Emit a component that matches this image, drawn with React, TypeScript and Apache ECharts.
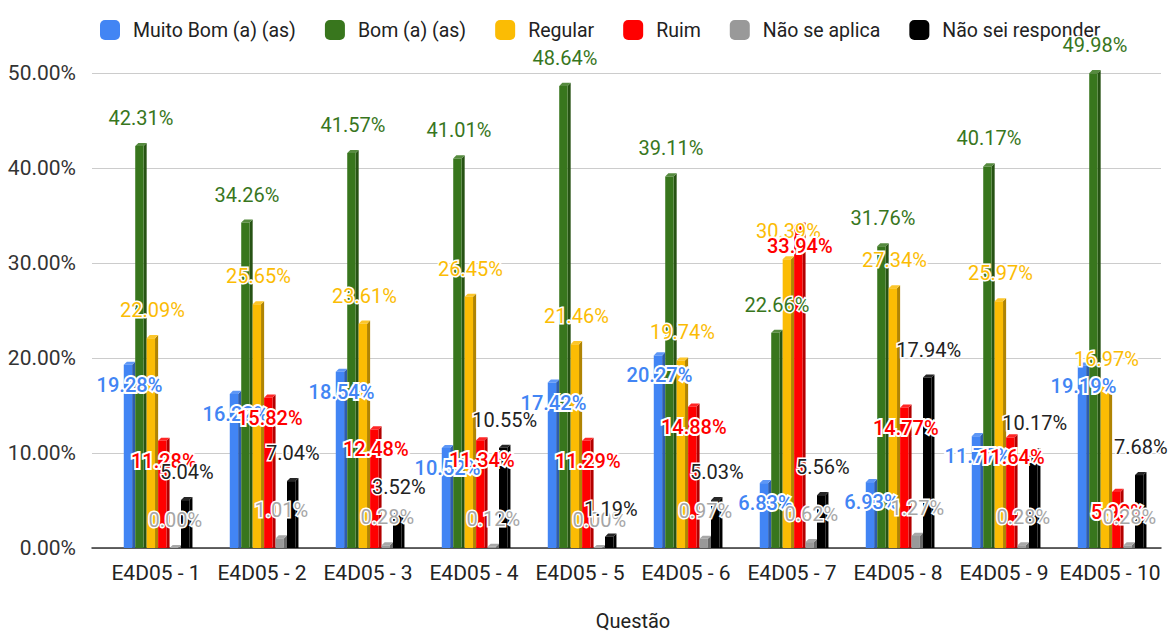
import React, { useEffect, useRef } from 'react';
import * as echarts from 'echarts';

const categories = ['E4D05 - 1', 'E4D05 - 2', 'E4D05 - 3', 'E4D05 - 4', 'E4D05 - 5', 'E4D05 - 6', 'E4D05 - 7', 'E4D05 - 8', 'E4D05 - 9', 'E4D05 - 10'];
const muitoBom = [19.28, 16.22, 18.54, 10.52, 17.42, 20.27, 6.83, 6.93, 11.77, 19.19];
const bom = [42.31, 34.26, 41.57, 41.01, 48.64, 39.11, 22.66, 31.76, 40.17, 49.98];
const regular = [22.09, 25.65, 23.61, 26.45, 21.46, 19.74, 30.39, 27.34, 25.97, 16.97];
const ruim = [11.28, 15.82, 12.48, 11.34, 11.29, 14.88, 33.94, 14.77, 11.64, 5.9];
const naoSeAplica = [0.0, 1.01, 0.28, 0.12, 0.0, 0.97, 0.62, 1.27, 0.28, 0.28];
const naoSeiResponder = [5.04, 7.04, 3.52, 10.55, 1.19, 5.03, 5.56, 17.94, 10.17, 7.68];
const seriesNames = ['Muito Bom (a) (as)', 'Bom (a) (as)', 'Regular', 'Ruim', 'Não se aplica', 'Não sei responder'];
const seriesValues = [muitoBom, bom, regular, ruim, naoSeAplica, naoSeiResponder];
const yMin = 0;
const yMax = 50;
const yInterval = 10;

const colors = ['#4285F4', '#38761D', '#FBBC04', '#FF0000', '#999999', '#000000'];
const labelColors = ['#4285F4', '#38761D', '#FBBC04', '#FF0000', '#A6A6A6', '#222222'];
const labelInside = [true, false, false, true, false, false];
const FONT = 'Roboto, "Noto Sans", sans-serif';

function shade(hex: string, f: number): string {
  const n = parseInt(hex.slice(1), 16);
  let r = (n >> 16) & 255, g = (n >> 8) & 255, b = n & 255;
  if (f < 0) {
    r = Math.round(r * (1 + f)); g = Math.round(g * (1 + f)); b = Math.round(b * (1 + f));
  } else {
    r = Math.round(r + (255 - r) * f); g = Math.round(g + (255 - g) * f); b = Math.round(b + (255 - b) * f);
  }
  return `rgb(${r},${g},${b})`;
}

function geom(k: number, api: any) {
  const idx = api.value(0);
  const val = api.value(1);
  const base = api.coord([idx, 0]);
  const top = api.coord([idx, val]);
  const band = api.size([1, 0])[0];
  const slot = band * 0.108;
  const d = slot * 0.27;
  const front = slot - d;
  const x0 = base[0] + band * 0.02 + (k - 3) * slot;
  return { idx, val, base, top, slot, d, front, x0 };
}

export default function App() {
  const ref = useRef<HTMLDivElement>(null);
  useEffect(() => {
    if (!ref.current) return;
    const chart = echarts.init(ref.current, null, { renderer: 'svg' });
    const series: any[] = [];
    seriesNames.forEach((name, k) => {
      const data = categories.map((_, i) => [i, seriesValues[k][i]]);
      const color = colors[k];
      series.push({
        type: 'custom',
        name,
        z: 2,
        xAxisIndex: 0,
        yAxisIndex: 0,
        itemStyle: { color },
        encode: { x: 0, y: 1 },
        data,
        renderItem: (params: any, api: any) => {
          const g = geom(k, api);
          const yT = g.top[1];
          const yB = g.base[1];
          return {
            type: 'group',
            children: [
              {
                type: 'polygon',
                shape: { points: [[g.x0 + g.front, yT], [g.x0 + g.front + g.d, yT - g.d], [g.x0 + g.front + g.d, yB], [g.x0 + g.front, yB]] },
                style: { fill: shade(color, -0.3) },
              },
              {
                type: 'polygon',
                shape: { points: [[g.x0, yT], [g.x0 + g.d, yT - g.d], [g.x0 + g.front + g.d, yT - g.d], [g.x0 + g.front, yT]] },
                style: { fill: shade(color, 0.15) },
              },
              {
                type: 'rect',
                shape: { x: g.x0, y: yT, width: g.front, height: Math.max(0, yB - yT) },
                style: { fill: color },
              },
            ],
          };
        },
      });
    });
    seriesNames.forEach((name, k) => {
      const data = categories.map((_, i) => [i, seriesValues[k][i]]);
      const inside = labelInside[k];
      series.push({
        type: 'custom',
        name,
        z: 10,
        xAxisIndex: 0,
        yAxisIndex: 0,
        itemStyle: { color: colors[k] },
        encode: { x: 0, y: 1 },
        data,
        silent: true,
        renderItem: (params: any, api: any) => {
          const g = geom(k, api);
          return {
            type: 'text',
            style: {
              text: g.val.toFixed(2) + '%',
              x: g.x0 + g.slot / 2,
              y: inside ? g.top[1] + 20 : g.top[1] - 28,
              fill: labelColors[k],
              stroke: '#ffffff',
              lineWidth: inside ? 4 : 3,
              fontSize: 20,
              fontFamily: FONT,
              fontWeight: inside ? 500 : 'normal',
              align: 'center',
              verticalAlign: 'middle',
            },
          };
        },
      });
    });

    chart.setOption({
      animation: false,
      backgroundColor: '#ffffff',
      textStyle: { fontFamily: FONT },
      legend: {
        data: seriesNames,
        left: 95,
        top: 15,
        icon: 'roundRect',
        itemWidth: 20,
        itemHeight: 20,
        itemGap: 29,
        textStyle: { fontSize: 19.5, color: '#222222', fontFamily: FONT, padding: [0, 0, 0, 8] },
      },
      grid: [
        { left: 103, right: 11, top: 73, bottom: 83, containLabel: false, outerBoundsMode: 'none' },
        { left: 92, right: 13, top: 73, bottom: 83, containLabel: false, outerBoundsMode: 'none' },
      ],
      xAxis: [
        {
          type: 'category',
          gridIndex: 0,
          data: categories,
          axisTick: { show: false },
          axisLine: { show: false },
          axisLabel: { fontSize: 21, color: '#222222', margin: 14, fontFamily: FONT, interval: 0 },
          name: 'Questão',
          nameLocation: 'middle',
          nameGap: 62,
          nameTextStyle: { fontSize: 20, color: '#222222', fontFamily: FONT, lineHeight: 22 },
        },
        {
          type: 'value',
          gridIndex: 1,
          min: 0,
          max: 1,
          axisTick: { show: false },
          axisLabel: { show: false },
          splitLine: { show: false },
          axisLine: { show: true, lineStyle: { color: '#333333', width: 1.5 } },
        },
      ],
      yAxis: [
        {
          type: 'value',
          gridIndex: 0,
          min: yMin,
          max: yMax,
          interval: yInterval,
          axisLine: { show: false },
          axisTick: { show: false },
          axisLabel: { show: false },
          splitLine: { show: false },
        },
        {
          type: 'value',
          gridIndex: 1,
          min: yMin,
          max: yMax,
          interval: yInterval,
          axisLine: { show: false },
          axisTick: { show: false },
          axisLabel: { fontSize: 21, color: '#333333', margin: 16, fontFamily: FONT, formatter: (v: number) => v.toFixed(2) + '%' },
          splitLine: { lineStyle: { color: '#cccccc', width: 1 } },
        },
      ],
      series,
    });
    return () => chart.dispose();
  }, []);
  return <div ref={ref} style={{ position: 'absolute', left: 0, top: 0, width: 1174, height: 631 }} />;
}
